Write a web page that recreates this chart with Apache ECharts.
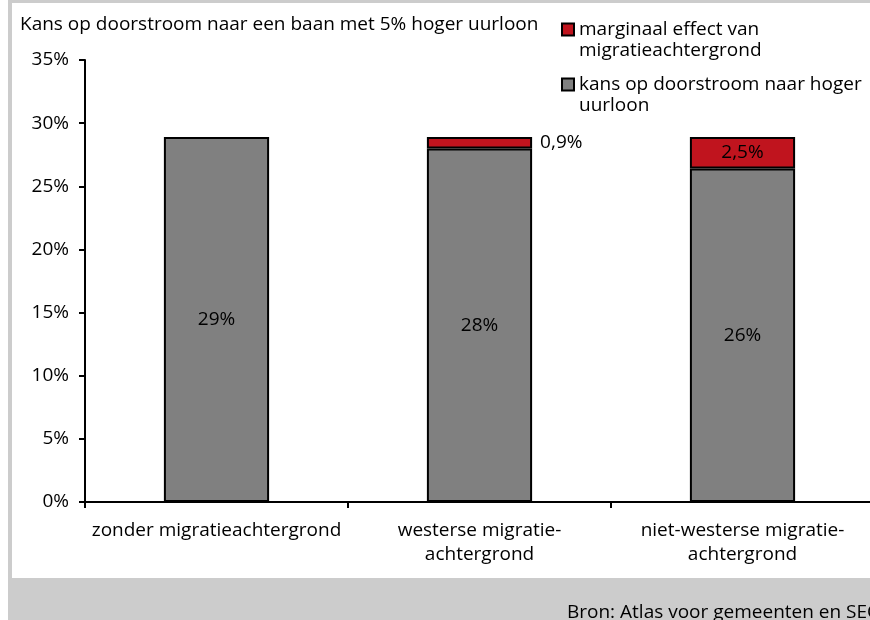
<!DOCTYPE html>
<html>
<head>
<meta charset="utf-8">
<script src="https://cdn.jsdelivr.net/npm/echarts@6/dist/echarts.min.js"></script>
<style>
html,body{margin:0;padding:0;overflow:hidden;background:#fff;}
#chart{position:absolute;left:0;top:0;width:880px;height:620px;}
</style>
</head>
<body>
<div id="chart"></div>
<script>
const categories = ['zonder migratieachtergrond', 'westerse migratie-\nachtergrond', 'niet-westerse migratie-\nachtergrond'];
const baseValues = [28.9, 28.0, 26.4];
const baseLabels = ['29%', '28%', '26%'];
const effectValues = [0, 0.9, 2.5];
const effectLabels = ['', '0,9%', '2,5%'];
const yTicks = [0, 5, 10, 15, 20, 25, 30, 35];
const seriesNames = ['marginaal effect van\nmigratieachtergrond', 'kans op doorstroom naar hoger\nuurloon'];

const FONT = 'Open Sans';
const FS = 19;
const chart = echarts.init(document.getElementById('chart'), null, {renderer: 'canvas'});

const effectData = effectValues.map((v, i) => {
  const d = {value: v};
  if (v === 0) { d.label = {show: false}; d.itemStyle = {borderWidth: 0}; }
  else if (i === 1) d.label = {show: true, position: 'right', distance: 8, formatter: effectLabels[i]};
  else d.label = {show: true, position: 'inside', formatter: effectLabels[i]};
  return d;
});

chart.setOption({
  animation: false,
  textStyle: {fontFamily: FONT},
  graphic: [
    {type: 'rect', z: -10, shape: {x: 8, y: 0, width: 880, height: 620}, style: {fill: '#cccccc'}, silent: true},
    {type: 'rect', z: -9, shape: {x: 12, y: 3, width: 880, height: 575}, style: {fill: '#ffffff'}, silent: true},
    {type: 'text', z: 5, left: 567, top: 603, style: {text: 'Bron: Atlas voor gemeenten en SEO', fontFamily: FONT, fontSize: FS, fill: '#000'}}
  ],
  title: {
    text: 'Kans op doorstroom naar een baan met 5% hoger uurloon',
    left: 20, top: 14, padding: 0,
    textStyle: {fontFamily: FONT, fontSize: FS, fontWeight: 'normal', color: '#000', lineHeight: 22}
  },
  legend: {
    orient: 'vertical',
    left: 561, top: -2, padding: 0,
    itemWidth: 12, itemHeight: 12, itemGap: -8,
    icon: 'rect',
    data: [seriesNames[0], seriesNames[1]],
    formatter: name => ' \n' + name,
    itemStyle: {borderColor: '#000', borderWidth: 2},
    textStyle: {fontFamily: FONT, fontSize: FS, color: '#000', lineHeight: 21}
  },
  grid: {left: 85, right: 6, top: 60, bottom: 118, containLabel: false},
  xAxis: {
    type: 'category',
    data: categories,
    axisLine: {lineStyle: {color: '#000', width: 2}},
    axisTick: {show: true, length: 6, lineStyle: {color: '#000', width: 2}},
    axisLabel: {color: '#000', fontSize: FS, fontFamily: FONT, margin: 17, lineHeight: 24, interval: 0}
  },
  yAxis: {
    type: 'value',
    min: 0, max: 35, interval: 5,
    splitLine: {show: false},
    axisLine: {show: true, lineStyle: {color: '#000', width: 2}},
    axisTick: {show: true, length: 6, lineStyle: {color: '#000', width: 2}},
    axisLabel: {color: '#000', fontSize: FS, fontFamily: FONT, margin: 16, formatter: v => yTicks.includes(v) ? v + '%' : ''}
  },
  series: [
    {
      name: seriesNames[1], type: 'bar', stack: 'a', barWidth: '40%',
      data: baseValues,
      itemStyle: {color: '#808080', borderColor: '#000', borderWidth: 2},
      label: {show: true, position: 'inside', color: '#000', fontSize: FS, fontFamily: FONT,
        formatter: p => baseLabels[p.dataIndex]}
    },
    {
      name: seriesNames[0], type: 'bar', stack: 'a', barWidth: '40%',
      data: effectData,
      itemStyle: {color: '#c0141e', borderColor: '#000', borderWidth: 2},
      label: {color: '#000', fontSize: FS, fontFamily: FONT}
    }
  ]
});
</script>
</body>
</html>
